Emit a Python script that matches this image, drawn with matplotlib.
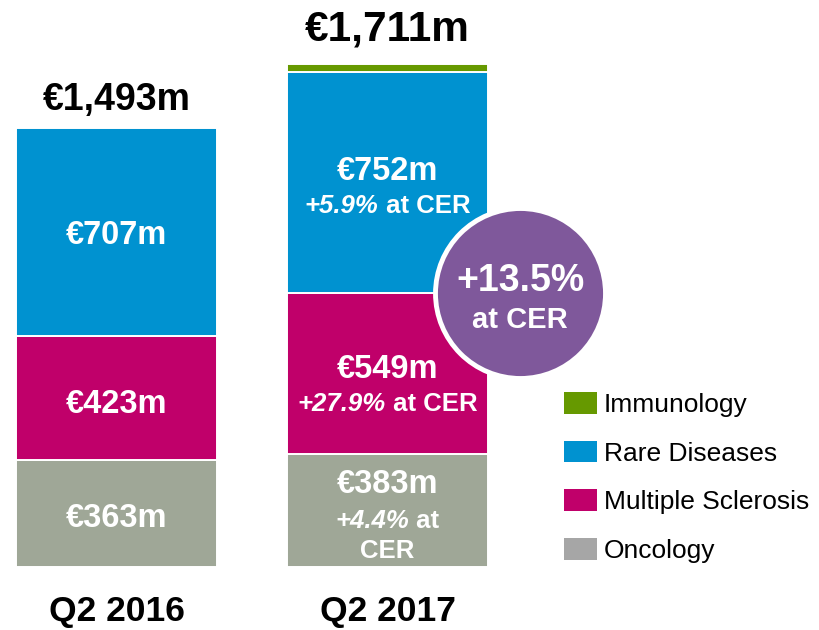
import matplotlib
matplotlib.use('Agg')
import matplotlib.pyplot as plt
from matplotlib.patches import Patch
from matplotlib.offsetbox import TextArea, HPacker, AnnotationBbox
import numpy as np

plt.rcParams['font.family'] = ['Liberation Sans', 'DejaVu Sans']

# data
periods = ['Q2 2016', 'Q2 2017']
oncology = [363, 383]
ms = [423, 549]
rare = [707, 752]
immunology = [0, 27]
totals = ['€1,493m', '€1,711m']
growth_onc = '+4.4%'
growth_ms = '+27.9%'
growth_rare = '+5.9%'
growth_total = '+13.5%'
legend_labels = ['Immunology', 'Rare Diseases', 'Multiple Sclerosis', 'Oncology']

c_onc = '#9FA797'
c_ms = '#C0006A'
c_rare = '#0092D0'
c_imm = '#669900'
c_purple = '#7F589B'
legend_colors = [c_imm, c_rare, c_ms, '#A6A6A6']

W, H = 819, 630
fig = plt.figure(figsize=(W / 100, H / 100), dpi=100)
ax = fig.add_axes([0, 0, 1, 1])
ax.axis('off')

px_unit = 0.294      # pixels per €m
base_px = 63         # bar baseline above figure bottom
spacing = 271        # pixels between bar centres
ax.set_ylim(-base_px / px_unit, (H - base_px) / px_unit)
ax.set_xlim(-116.5 / spacing, (W - 116.5) / spacing)
x = np.arange(len(periods))
width = 201 / spacing

onc = np.array(oncology)
msa = np.array(ms)
rd = np.array(rare)
imm = np.array(immunology)

kw = dict(width=width, edgecolor='white', linewidth=1.4)
ax.bar(x, onc, color=c_onc, **kw)
ax.bar(x, msa, bottom=onc, color=c_ms, **kw)
ax.bar(x, rd, bottom=onc + msa, color=c_rare, **kw)
ax.bar(x[imm > 0], imm[imm > 0], bottom=(onc + msa + rd)[imm > 0], color=c_imm, **kw)

def px(v):
    return (v - 3) * 0.72  # pixels -> points at 100 dpi, small baseline nudge

def label(xv, yv, text, dy, size, style='normal'):
    ax.annotate(text, (xv, yv), xytext=(0, px(dy)), textcoords='offset points',
                ha='center', va='center', color='white', fontsize=size,
                fontweight='bold', fontstyle=style)

def mixed(xv, yv, first, rest, dy, size):
    t1 = TextArea(first, textprops=dict(color='white', fontsize=size,
                                        fontweight='bold', fontstyle='italic'))
    t2 = TextArea(rest, textprops=dict(color='white', fontsize=size, fontweight='bold'))
    box = HPacker(children=[t1, t2], pad=0, sep=0, align='baseline')
    ab = AnnotationBbox(box, (xv, yv), xybox=(0, px(dy)), boxcoords='offset points',
                        frameon=False, box_alignment=(0.5, 0.5), pad=0)
    ax.add_artist(ab)

big, small = 23.5, 18.5

# Q2 2016 segment values
label(0, onc[0] / 2, f'€{oncology[0]}m', -2, big)
label(0, onc[0] + msa[0] / 2, f'€{ms[0]}m', -3, big)
label(0, onc[0] + msa[0] + rd[0] / 2, f'€{rare[0]}m', -1, big)

# Q2 2017 segment values with growth
label(1, onc[1] / 2, f'€{oncology[1]}m', 29, big)
mixed(1, onc[1] / 2, growth_onc, ' at', -7, small)
label(1, onc[1] / 2, 'CER', -37, small)
label(1, onc[1] + msa[1] / 2, f'€{ms[1]}m', 7, big)
mixed(1, onc[1] + msa[1] / 2, growth_ms, ' at CER', -27, small)
label(1, onc[1] + msa[1] + rd[1] / 2, f'€{rare[1]}m', 14, big)
mixed(1, onc[1] + msa[1] + rd[1] / 2, growth_rare, ' at CER', -21, small)

# totals above bars
tops = onc + msa + rd + imm
for xi, t, dy, fs in zip(x, totals, [31, 37], [27, 30.5]):
    ax.annotate(t, (xi, tops[xi]), xytext=(0, px(dy)), textcoords='offset points',
                ha='center', va='center', fontsize=fs, fontweight='bold', color='black')

# period labels
for xi, p in zip(x, periods):
    ax.annotate(p, (xi, 0), xytext=(0, px(-42)), textcoords='offset points',
                ha='center', va='center', fontsize=25.5, fontweight='bold', color='black')

# growth circle
cx = 1 + 132.5 / spacing
cy = onc[1] + msa[1]
ax.scatter([cx], [cy], s=(170 * 0.72) ** 2, color=c_purple, edgecolor='white',
           linewidth=3.5, zorder=5)
ax.annotate(growth_total, (cx, cy), xytext=(0, px(15)), textcoords='offset points',
            ha='center', va='center', fontsize=27, fontweight='bold', color='white', zorder=6)
ax.annotate('at CER', (cx, cy), xytext=(0, px(-24)), textcoords='offset points',
            ha='center', va='center', fontsize=21, fontweight='bold', color='white', zorder=6)

# legend
handles = [Patch(facecolor=c, edgecolor='none') for c in legend_colors]
ax.legend(handles, legend_labels, loc='upper left',
          bbox_to_anchor=(564 / W, 1 - 392 / H), bbox_transform=fig.transFigure,
          frameon=False, fontsize=19, handlelength=1.25, handleheight=0.9,
          handletextpad=0.25, labelspacing=0.89, borderpad=0, borderaxespad=0)

fig.savefig('out.png', dpi=100)
